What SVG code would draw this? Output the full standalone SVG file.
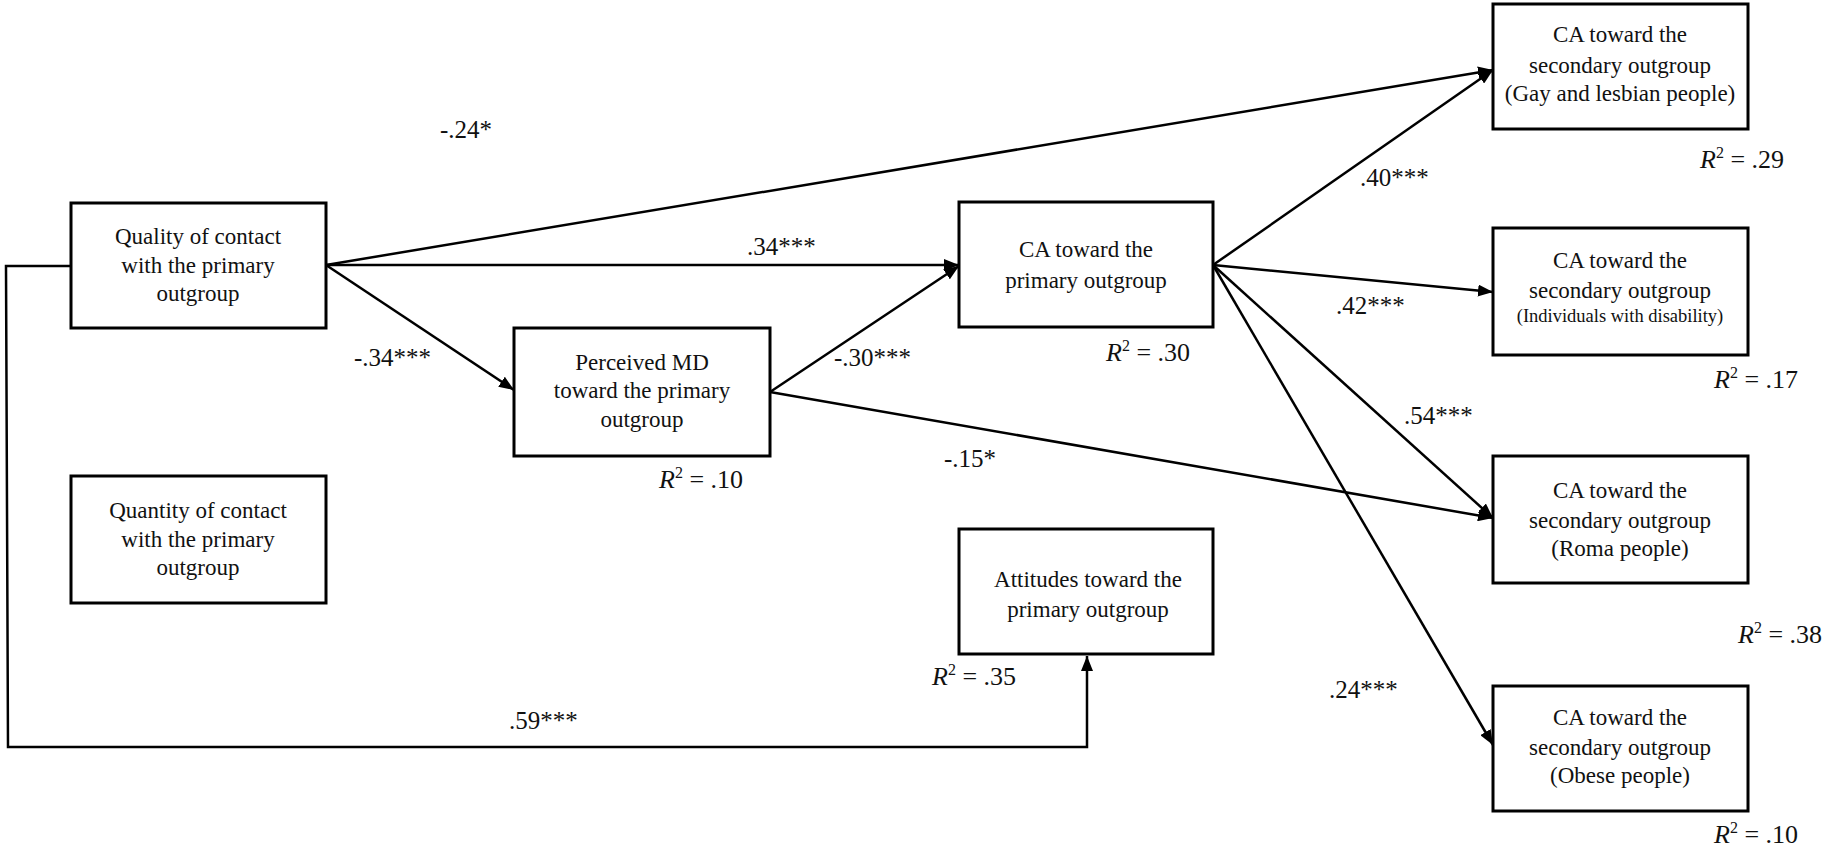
<svg xmlns="http://www.w3.org/2000/svg" width="1834" height="848" viewBox="0 0 1834 848">
<style>
  .box { fill: #fff; stroke: #000; stroke-width: 3; }
  .t { font-family: "Liberation Serif", "Times New Roman", serif; font-size: 23px; fill: #111; text-anchor: middle; }
  .ts { font-size: 18.5px; }
  .lbl { font-family: "Liberation Serif", "Times New Roman", serif; font-size: 25px; fill: #111; }
  .r2 { font-family: "Liberation Serif", "Times New Roman", serif; font-size: 26px; fill: #111; }
  .edge { fill: none; stroke: #000; stroke-width: 2.5; }
</style>
<defs>
  <marker id="arr" markerUnits="userSpaceOnUse" markerWidth="16" markerHeight="12" refX="15" refY="6" orient="auto">
    <path d="M0,0 L15,6 L0,12 z" fill="#000"/>
  </marker>
</defs>
<rect width="1834" height="848" fill="#fff"/>

<g id="connectors">
  <line class="edge" x1="326" y1="265" x2="1493" y2="70" marker-end="url(#arr)"/>
  <line class="edge" x1="326" y1="265" x2="959" y2="265" marker-end="url(#arr)"/>
  <line class="edge" x1="326" y1="265" x2="514" y2="390" marker-end="url(#arr)"/>
  <line class="edge" x1="770" y1="392" x2="959" y2="266" marker-end="url(#arr)"/>
  <line class="edge" x1="770" y1="392" x2="1493" y2="518" marker-end="url(#arr)"/>
  <line class="edge" x1="1213" y1="265" x2="1493" y2="70" marker-end="url(#arr)"/>
  <line class="edge" x1="1213" y1="265" x2="1493" y2="292" marker-end="url(#arr)"/>
  <line class="edge" x1="1213" y1="265" x2="1493" y2="518" marker-end="url(#arr)"/>
  <line class="edge" x1="1213" y1="265" x2="1493" y2="745" marker-end="url(#arr)"/>
  <polyline class="edge" points="71,266 6,266 8,747 1087,747 1087,656" marker-end="url(#arr)"/>
  <text class="lbl" x="440" y="138">-.24*</text>
  <text class="lbl" x="747" y="255">.34***</text>
  <text class="lbl" x="354" y="366">-.34***</text>
  <text class="lbl" x="834" y="366">-.30***</text>
  <text class="lbl" x="944" y="467">-.15*</text>
  <text class="lbl" x="1360" y="186">.40***</text>
  <text class="lbl" x="1336" y="314">.42***</text>
  <text class="lbl" x="1404" y="424">.54***</text>
  <text class="lbl" x="1329" y="698">.24***</text>
  <text class="lbl" x="509" y="729">.59***</text>
</g>

<g id="quality">
  <rect class="box" x="71" y="203" width="255" height="125"/>
  <text class="t" x="198" y="244">Quality of contact</text>
  <text class="t" x="198" y="273">with the primary</text>
  <text class="t" x="198" y="301">outgroup</text>
</g>

<g id="quantity">
  <rect class="box" x="71" y="476" width="255" height="127"/>
  <text class="t" x="198" y="518">Quantity of contact</text>
  <text class="t" x="198" y="547">with the primary</text>
  <text class="t" x="198" y="575">outgroup</text>
</g>

<g id="perceived">
  <rect class="box" x="514" y="328" width="256" height="128"/>
  <text class="t" x="642" y="370">Perceived MD</text>
  <text class="t" x="642" y="398">toward the primary</text>
  <text class="t" x="642" y="427">outgroup</text>
  <text class="r2" x="659" y="488"><tspan font-style="italic">R</tspan><tspan font-size="16" dy="-10">2</tspan><tspan dy="10"> = .10</tspan></text>
</g>

<g id="ca-primary">
  <rect class="box" x="959" y="202" width="254" height="125"/>
  <text class="t" x="1086" y="257">CA toward the</text>
  <text class="t" x="1086" y="288">primary outgroup</text>
  <text class="r2" x="1106" y="361"><tspan font-style="italic">R</tspan><tspan font-size="16" dy="-10">2</tspan><tspan dy="10"> = .30</tspan></text>
</g>

<g id="attitudes">
  <rect class="box" x="959" y="529" width="254" height="125"/>
  <text class="t" x="1088" y="587">Attitudes toward the</text>
  <text class="t" x="1088" y="617">primary outgroup</text>
  <text class="r2" x="932" y="685"><tspan font-style="italic">R</tspan><tspan font-size="16" dy="-10">2</tspan><tspan dy="10"> = .35</tspan></text>
</g>

<g id="ca-gay">
  <rect class="box" x="1493" y="4" width="255" height="125"/>
  <text class="t" x="1620" y="42">CA toward the</text>
  <text class="t" x="1620" y="73">secondary outgroup</text>
  <text class="t" x="1620" y="101">(Gay and lesbian people)</text>
  <text class="r2" x="1700" y="168"><tspan font-style="italic">R</tspan><tspan font-size="16" dy="-10">2</tspan><tspan dy="10"> = .29</tspan></text>
</g>

<g id="ca-disability">
  <rect class="box" x="1493" y="228" width="255" height="127"/>
  <text class="t" x="1620" y="268">CA toward the</text>
  <text class="t" x="1620" y="298">secondary outgroup</text>
  <text class="t ts" x="1620" y="322">(Individuals with disability)</text>
  <text class="r2" x="1714" y="388"><tspan font-style="italic">R</tspan><tspan font-size="16" dy="-10">2</tspan><tspan dy="10"> = .17</tspan></text>
</g>

<g id="ca-roma">
  <rect class="box" x="1493" y="456" width="255" height="127"/>
  <text class="t" x="1620" y="498">CA toward the</text>
  <text class="t" x="1620" y="528">secondary outgroup</text>
  <text class="t" x="1620" y="556">(Roma people)</text>
  <text class="r2" x="1738" y="643"><tspan font-style="italic">R</tspan><tspan font-size="16" dy="-10">2</tspan><tspan dy="10"> = .38</tspan></text>
</g>

<g id="ca-obese">
  <rect class="box" x="1493" y="686" width="255" height="125"/>
  <text class="t" x="1620" y="725">CA toward the</text>
  <text class="t" x="1620" y="755">secondary outgroup</text>
  <text class="t" x="1620" y="783">(Obese people)</text>
  <text class="r2" x="1714" y="843"><tspan font-style="italic">R</tspan><tspan font-size="16" dy="-10">2</tspan><tspan dy="10"> = .10</tspan></text>
</g>
</svg>
